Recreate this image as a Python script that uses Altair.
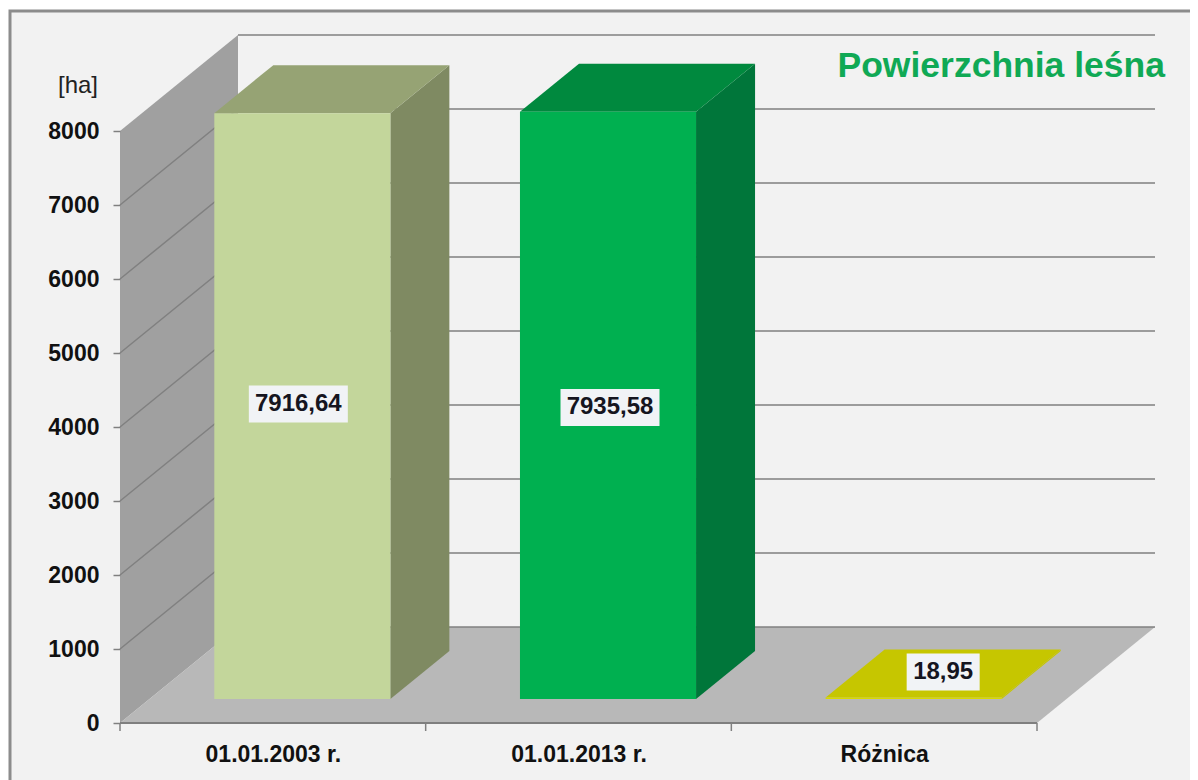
import altair as alt
import pandas as pd

CATEGORIES = ["01.01.2003 r.", "01.01.2013 r.", "Różnica"]
VALUES = [7916.64, 7935.58, 18.95]
VALUE_LABELS = ["7916,64", "7935,58", "18,95"]
Y_TICKS = [0, 1000, 2000, 3000, 4000, 5000, 6000, 7000, 8000]
FRONT = ["#c3d69b", "#00b050", "#d9d900"]
TOP = ["#96a374", "#00893e", "#c6c600"]
SIDE = ["#7f8a62", "#00763a", "#c6c600"]

W, H = 1182, 772
PX_PER_CAT = 305.67
PX_PER_VAL = 0.074
DEPTH_X = 118 / PX_PER_CAT
DEPTH_Y = 96 / PX_PER_VAL
X_DOMAIN = [-112 / PX_PER_CAT, (W - 112) / PX_PER_CAT]
Y_DOMAIN = [-(780 - 723) / PX_PER_VAL, (723 - 8) / PX_PER_VAL]
BAR_W = 0.576


def project(u, v, d):
    return u + DEPTH_X * d, v + DEPTH_Y * d


def face(name, fill, corners):
    """Vertical slices of a convex polygon given by (cat, value, depth) corners."""
    pts = [project(*c) for c in corners]
    xs = sorted({round(p[0], 6) for p in pts})
    rows = []
    n = len(pts)
    for x in xs:
        ys = []
        for i in range(n):
            (x0, y0), (x1, y1) = pts[i], pts[(i + 1) % n]
            lo, hi = min(x0, x1), max(x0, x1)
            if lo - 1e-5 <= x <= hi + 1e-5:
                if abs(x1 - x0) < 1e-5:
                    ys += [y0, y1]
                else:
                    ys.append(y0 + (y1 - y0) * (x - x0) / (x1 - x0))
        rows.append(dict(face=name, fill=fill, x=x, y=min(ys), y2=max(ys)))
    return rows


TOPV = Y_TICKS[-1]
walls = []
walls += face("wall", "#a0a0a0", [(0, 0, 0), (0, TOPV, 0), (0, TOPV, 1), (0, 0, 1)])
walls += face("floor", "#b8b8b8", [(0, 0, 0), (3, 0, 0), (3, 0, 1), (0, 0, 1)])

bars = []
for i, val in enumerate(VALUES):
    a, b = i + 0.5 - BAR_W / 2, i + 0.5 + BAR_W / 2
    d0, d1 = 0.25, 0.75
    bars += face(f"side{i}", SIDE[i], [(b, 0, d0), (b, val, d0), (b, val, d1), (b, 0, d1)])
    bars += face(f"top{i}", TOP[i], [(a, val, d0), (b, val, d0), (b, val, d1), (a, val, d1)])
    bars += face(f"front{i}", FRONT[i], [(a, 0, d0), (b, 0, d0), (b, val, d0), (a, val, d0)])

grid = []
for t in Y_TICKS:
    pts = []
    if 0 < t < TOPV:
        pts.append((0, t, 0))
    pts += [(0, t, 1), (3, t, 1)]
    for k, p in enumerate(pts):
        x, y = project(*p)
        grid.append(dict(level=t, k=k, x=x, y=y))
edges = pd.DataFrame(
    [dict(level=-1, k=k, x=project(u, 0, 0)[0], y=0) for k, u in enumerate([0, 3])]
)

x_ticks = pd.DataFrame([dict(x=u, y=0, y2=-8 / PX_PER_VAL) for u in range(len(CATEGORIES) + 1)])

NUDGE = {0: (-4, 2), 1: (2, -2), 2: (0, 3)}
label_rows = []
for i, (val, lab) in enumerate(zip(VALUES, VALUE_LABELS)):
    if val > 100:
        x, y = project(i + 0.5, val / 2, 0.25)
    else:
        x, y = project(i + 0.5, 0, 0.5)
    x += NUDGE[i][0] / PX_PER_CAT
    y += NUDGE[i][1] / PX_PER_VAL
    label_rows.append(dict(x=x, y=y, label=lab, w=len(lab) * 13 + 8))
labels = pd.DataFrame(label_rows)

label_expr = "[" + ",".join(f"'{c}'" for c in CATEGORIES) + "][floor(datum.value)]"
X = alt.X(
    "x:Q",
    scale=alt.Scale(domain=X_DOMAIN, nice=False, zero=False),
    title=None,
    axis=alt.Axis(
        orient="bottom", offset=-(H - 715), values=[0.5, 1.5, 2.5], labelExpr=label_expr,
        ticks=False, domain=False, grid=False, labelPadding=31, labelFontSize=23,
        labelFontWeight="bold", labelFont="Liberation Sans", labelColor="#111111",
        labelBaseline="middle", labelOverlap=False, zindex=1,
    ),
)
Y = alt.Y(
    "y:Q",
    scale=alt.Scale(domain=Y_DOMAIN, nice=False, zero=False),
    title=None,
    axis=alt.Axis(
        orient="left", offset=-112, values=Y_TICKS, format="d", domain=False, grid=False,
        tickSize=7, tickColor="#808080", tickWidth=1.5, labelPadding=14, labelFontSize=23,
        labelFontWeight="bold", labelFont="Liberation Sans", labelColor="#111111",
        labelBaseline="middle", labelOverlap=False, labelFlush=False, zindex=1,
    ),
)

frame = alt.Chart(pd.DataFrame({"a": [0]})).mark_rect(
    fill="#f2f2f2", stroke="#8c8c8c", strokeWidth=3
).encode(x=alt.value(2), x2=alt.value(W + 20), y=alt.value(3), y2=alt.value(H + 20))

wall_layer = alt.Chart(pd.DataFrame(walls)).mark_area(opacity=1).encode(
    x=X, y=Y, y2="y2:Q",
    fill=alt.Fill("fill:N", scale=None), detail="face:N",
)
grid_layer = alt.Chart(pd.DataFrame(grid)).mark_line(color="#808080", strokeWidth=1.5).encode(
    x=X, y=Y, detail="level:N", order="k:Q"
)
front_edge = alt.Chart(edges).mark_line(color="#7f7f7f", strokeWidth=2).encode(x=X, y=Y, order="k:Q")
tick_layer = alt.Chart(x_ticks).mark_rule(color="#808080", strokeWidth=1.5).encode(x=X, y=Y, y2="y2:Q")
bar_layer = alt.Chart(pd.DataFrame(bars)).mark_area(opacity=1).encode(
    x=X, y=Y, y2="y2:Q",
    fill=alt.Fill("fill:N", scale=None), detail="face:N",
)

layers = [frame, wall_layer, grid_layer, front_edge, tick_layer, bar_layer]
for _, r in labels.iterrows():
    one = pd.DataFrame([r])
    layers.append(
        alt.Chart(one).mark_rect(fill="#f1f3f6", width=float(r["w"]), height=37).encode(x=X, y=Y)
    )
layers.append(
    alt.Chart(labels).mark_text(
        font="Liberation Sans", fontWeight="bold", fontSize=24, color="#15151f", baseline="middle"
    ).encode(x=X, y=Y, text="label:N")
)
layers.append(
    alt.Chart(pd.DataFrame({"t": ["[ha]"]})).mark_text(
        font="Liberation Sans", fontSize=24, color="#222222", baseline="middle", align="center"
    ).encode(x=alt.value(70), y=alt.value(78), text="t:N")
)

chart = alt.layer(*layers).properties(
    width=W, height=H, padding=0,
    autosize=alt.AutoSizeParams(type="none"),
    background="white",
    title=alt.TitleParams(
        text="Powierzchnia leśna", anchor="end", orient="top", frame="group",
        offset=-76, dx=-25, fontSize=35.5, fontWeight="bold", font="Liberation Sans",
        color="#10a955", zindex=1,
    ),
).configure_view(stroke=None)

chart.save("out.html", embed_options={"renderer": "svg", "actions": False})
